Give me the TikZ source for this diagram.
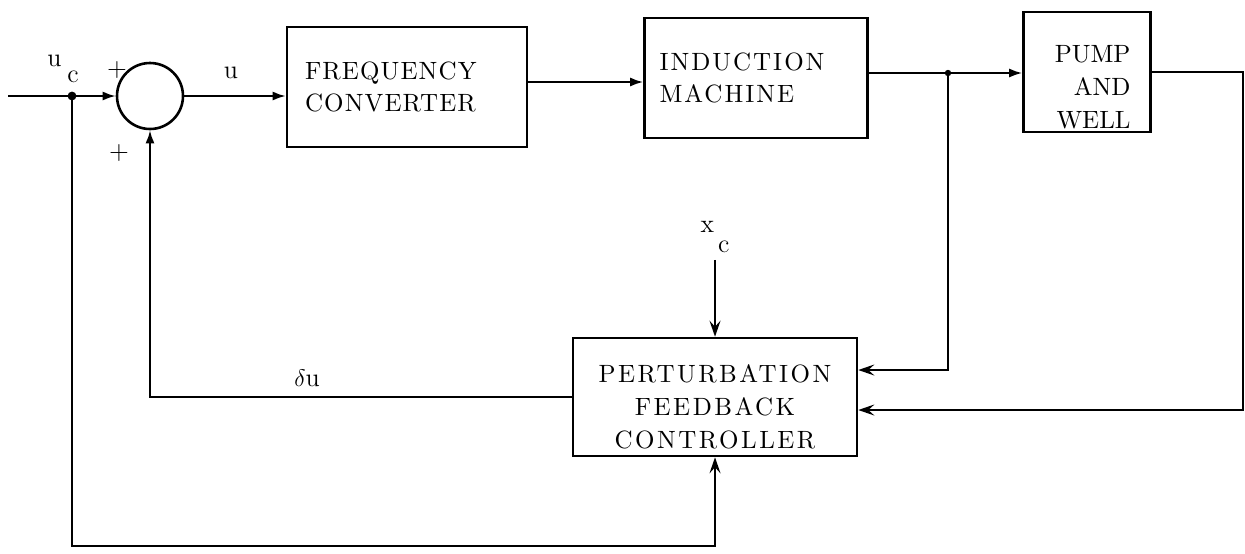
\documentclass[tikz,border=0pt]{standalone}
\usepackage{fontspec}
\newfontfamily\blkfont{lmroman10-regular.otf}
\usepackage{tikz}
\usetikzlibrary{positioning, arrows.meta, calc}

\begin{document}
\begin{tikzpicture}[x=0.5pt, y=-0.5pt,
        sig/.style={line width=1pt},
        fwd/.style={sig, -{Latex[length=6.5pt,width=4.5pt]}},
        fb/.style={sig, -{Stealth[length=8pt,width=5.5pt,inset=3pt]}},
        blk/.style={draw, line width=1.3pt, inner ysep=3pt},
        lbl/.style={font=\fontsize{13}{15}\selectfont},
    ]
        \useasboundingbox (0,0) rectangle (1245,553);
        % forward path
        \node[draw, circle, line width=1.3pt, minimum size=33pt, inner sep=0pt] (sum) at (150,96) {};
        \node[blk, minimum height=60pt, text width=102pt, inner xsep=9pt, align=left,
              font=\fontsize{12.5}{16}\blkfont\addfontfeatures{LetterSpace=4.5}] (fc) at (407,87) {FREQUENCY\\CONVERTER};
        \node[blk, minimum height=60pt, text width=96.5pt, inner xsep=7.5pt, align=left,
              font=\fontsize{12.5}{16}\blkfont\addfontfeatures{LetterSpace=8}] (im) at (756,78) {INDUCTION\\MACHINE};
        \node[blk, minimum height=60pt, text width=43.5pt, inner xsep=10pt, inner ysep=1pt, align=right,
              font=\fontsize{12.5}{16.5}\blkfont] (pump) at (1087,72) {\rule{0pt}{24pt}PUMP\\AND\\WELL};
        \node[blk, minimum width=142pt, minimum height=59pt, inner ysep=1pt, align=center,
              font=\fontsize{12.5}{16.5}\blkfont\addfontfeatures{LetterSpace=10}] (ctrl) at (715,397) {\rule{0pt}{19pt}PERTURBATION\\FEEDBACK\\CONTROLLER};
        % labels
        \node[lbl] (uc) at (63,69) {u\hspace{3pt}\raisebox{-8pt}{c}};
        \node[lbl] (xc) at (715,237) {x\hspace{2pt}\raisebox{-10pt}{c}};
        \node[lbl] (ulab) at (231,73) {u};
        \node[lbl] (dulab) at (307,378) {$\delta$u};
        \node[lbl] (pa) at (117,70) {+};
        \node[lbl] (pb) at (119,153) {+};
        % branch points
        \coordinate (in) at (8,96);
        \coordinate (tap) at (72,96);
        \coordinate (jn) at (948,73);
        \coordinate (rt) at (1243,410);
        \fill (tap) circle (2.2pt);
        \fill (jn) circle (1.6pt);
        % connectors
        \draw[fwd] (in) -- (sum.west);
        \draw[fwd] (sum.east) -- (fc.west |- sum.east);
        \draw[fwd] (fc.east |- 0,82) -- (im.west |- 0,82);
        \draw[sig] (im.east |- jn) -- (jn);
        \draw[fwd] (jn) -- (pump.west |- jn);
        \draw[fb] (pump.east) -| (rt) -- (ctrl.east |- rt);
        \draw[fb] (jn) |- (ctrl.east |- 0,370);
        \draw[fb] (xc.south) -- (ctrl.north);
        \draw[fwd] (ctrl.west) -| (sum.south);
        \draw[fb] (tap) -- ++(0,450) -| (ctrl.south);
    \end{tikzpicture}
\end{document}
